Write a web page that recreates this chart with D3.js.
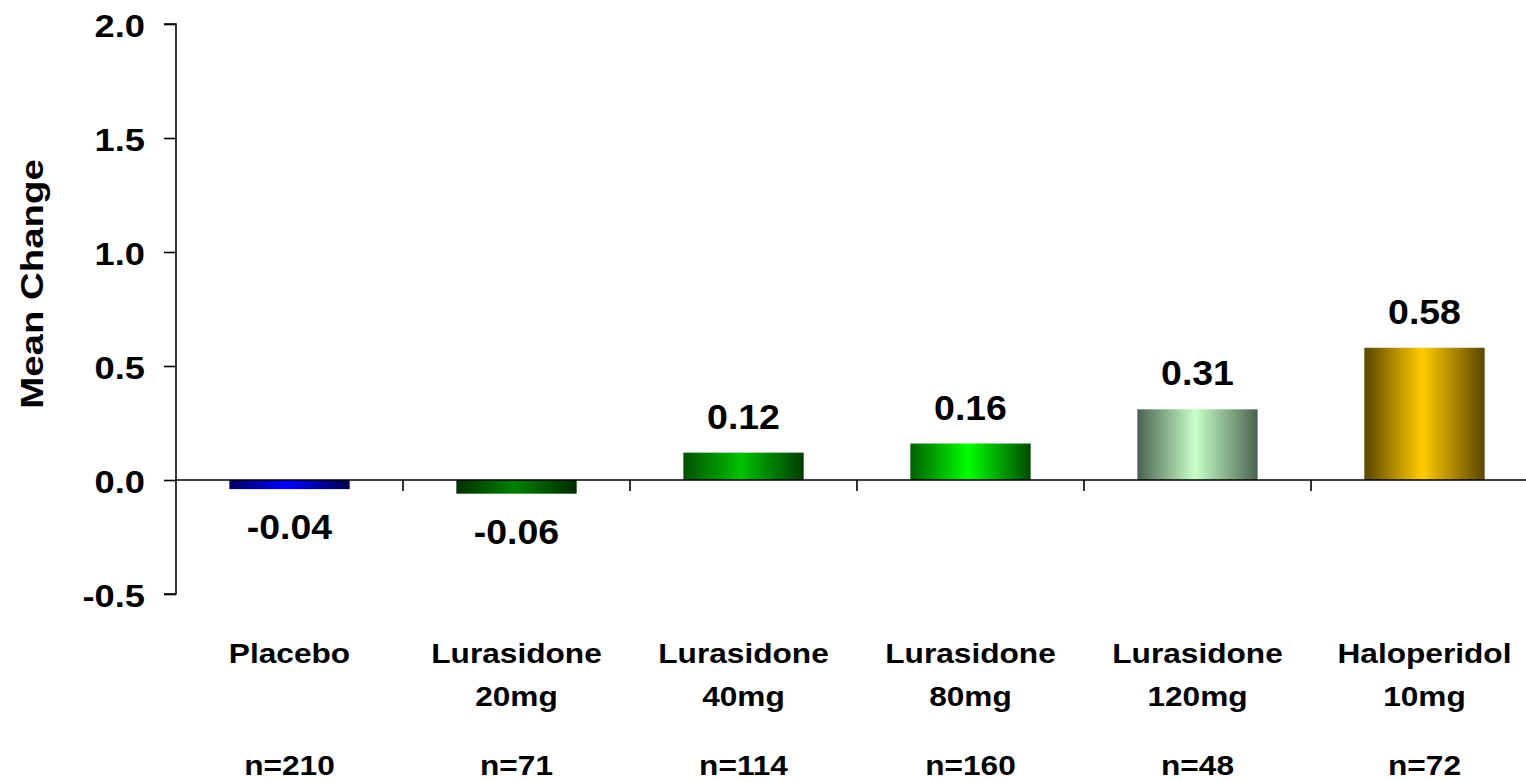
<!DOCTYPE html>
<html>
<head>
<meta charset="utf-8">
<script src="https://cdn.jsdelivr.net/npm/d3@7"></script>
<style>
  html, body { margin: 0; padding: 0; background: #fff; }
  svg { display: block; font-family: "Liberation Sans", Arial, sans-serif; font-weight: bold; }
</style>
</head>
<body>
<svg id="chart" width="1526" height="782"></svg>
<script>
// ---- data ----
const categories = ["Placebo", "Lurasidone 20mg", "Lurasidone 40mg", "Lurasidone 80mg", "Lurasidone 120mg", "Haloperidol 10mg"];
const categoryLines = [["Placebo"], ["Lurasidone", "20mg"], ["Lurasidone", "40mg"], ["Lurasidone", "80mg"], ["Lurasidone", "120mg"], ["Haloperidol", "10mg"]];
const meanChange = [-0.04, -0.06, 0.12, 0.16, 0.31, 0.58];
const sampleSizes = ["n=210", "n=71", "n=114", "n=160", "n=48", "n=72"];
const yTickValues = [-0.5, 0.0, 0.5, 1.0, 1.5, 2.0];
const yDomain = [-0.5, 2.0];
const yTitle = "Mean Change";
// gradient colours: [edge-left, centre, edge-right]
const barGradients = [
  ["#00005e", "#0000ff", "#00004a"],
  ["#003000", "#008000", "#002a00"],
  ["#005000", "#00c000", "#003c00"],
  ["#006000", "#00ff00", "#004a00"],
  ["#4a6350", "#c8ffc8", "#4a6350"],
  ["#5a4500", "#ffcc00", "#5a4500"]
];

// ---- layout ----
const svg = d3.select("#chart");
const axisX = 176;
const x = d3.scaleBand().domain(categories).range([axisX, 1538]).paddingInner(0.47).paddingOuter(0.235);
const y = d3.scaleLinear().domain(yDomain).range([594, 24]);
const step = x.step();

// gradients
const defs = svg.append("defs");
categories.forEach((c, i) => {
  const g = defs.append("linearGradient").attr("id", "grad" + i)
    .attr("x1", "0%").attr("x2", "100%").attr("y1", "0%").attr("y2", "0%");
  g.append("stop").attr("offset", "0%").attr("stop-color", barGradients[i][0]);
  g.append("stop").attr("offset", "48%").attr("stop-color", barGradients[i][1]);
  g.append("stop").attr("offset", "100%").attr("stop-color", barGradients[i][2]);
});

// bars
svg.append("g").selectAll("rect").data(categories).join("rect")
  .attr("x", d => x(d))
  .attr("width", x.bandwidth())
  .attr("y", (d, i) => y(Math.max(0, meanChange[i])))
  .attr("height", (d, i) => Math.abs(y(meanChange[i]) - y(0)))
  .attr("fill", (d, i) => `url(#grad${i})`);

// y axis
const yAxis = svg.append("g").attr("transform", `translate(${axisX},0)`)
  .call(d3.axisLeft(y).tickValues(yTickValues).tickFormat(d => d.toFixed(1)).tickSize(12).tickPadding(19));
yAxis.select(".domain").attr("stroke", "#000").attr("stroke-width", 1.6).attr("d", `M-12,${y(2.0)}H0V${y(-0.5)}H-12`);
yAxis.selectAll(".tick line").attr("stroke", "#000").attr("stroke-width", 1.6);
yAxis.selectAll(".tick text").each(function() {
  const t = d3.select(this);
  const tx = +t.attr("x");
  t.attr("x", 0).attr("dy", null).attr("dominant-baseline", "central")
   .attr("transform", `translate(${tx},1) scale(1.17,1)`)
   .attr("font-size", 31).attr("font-family", "Liberation Sans, Arial, sans-serif")
   .attr("font-weight", "bold").attr("fill", "#000");
});

// x axis line at zero with ticks at band boundaries
const xAxis = svg.append("g");
xAxis.append("line").attr("x1", axisX).attr("x2", 1526).attr("y1", y(0)).attr("y2", y(0))
  .attr("stroke", "#000").attr("stroke-width", 1.6);
xAxis.selectAll("line.tk").data(categories.slice(0, -1)).join("line").attr("class", "tk")
  .attr("x1", d => x(d) + x.bandwidth() + step * x.paddingInner() / 2)
  .attr("x2", d => x(d) + x.bandwidth() + step * x.paddingInner() / 2)
  .attr("y1", y(0)).attr("y2", y(0) + 11)
  .attr("stroke", "#000").attr("stroke-width", 1.6);

// value labels
svg.append("g").selectAll("text").data(categories).join("text")
  .attr("text-anchor", "middle")
  .attr("font-size", 35)
  .attr("fill", "#000")
  .attr("transform", (d, i) => {
    const v = meanChange[i];
    const cx = x(d) + x.bandwidth() / 2;
    const by = v >= 0 ? y(v) - 24 : y(v) + 50;
    return `translate(${cx},${by}) scale(1.07,1)`;
  })
  .text((d, i) => meanChange[i].toFixed(2));

// category labels
const catG = svg.append("g");
categories.forEach((c, i) => {
  const cx = x(c) + x.bandwidth() / 2;
  categoryLines[i].forEach((line, j) => {
    catG.append("text").attr("text-anchor", "middle").attr("font-size", 28).attr("fill", "#000")
      .attr("transform", `translate(${cx},${663 + j * 43}) scale(1.13,1)`)
      .text(line);
  });
  catG.append("text").attr("text-anchor", "middle").attr("font-size", 28).attr("fill", "#000")
    .attr("transform", `translate(${cx},${775}) scale(1.13,1)`)
    .text(sampleSizes[i]);
});

// y title
svg.append("text").attr("text-anchor", "middle").attr("font-size", 32).attr("fill", "#000")
  .attr("transform", `translate(43,284) rotate(-90) scale(1.2,1)`)
  .text(yTitle);
</script>
</body>
</html>
